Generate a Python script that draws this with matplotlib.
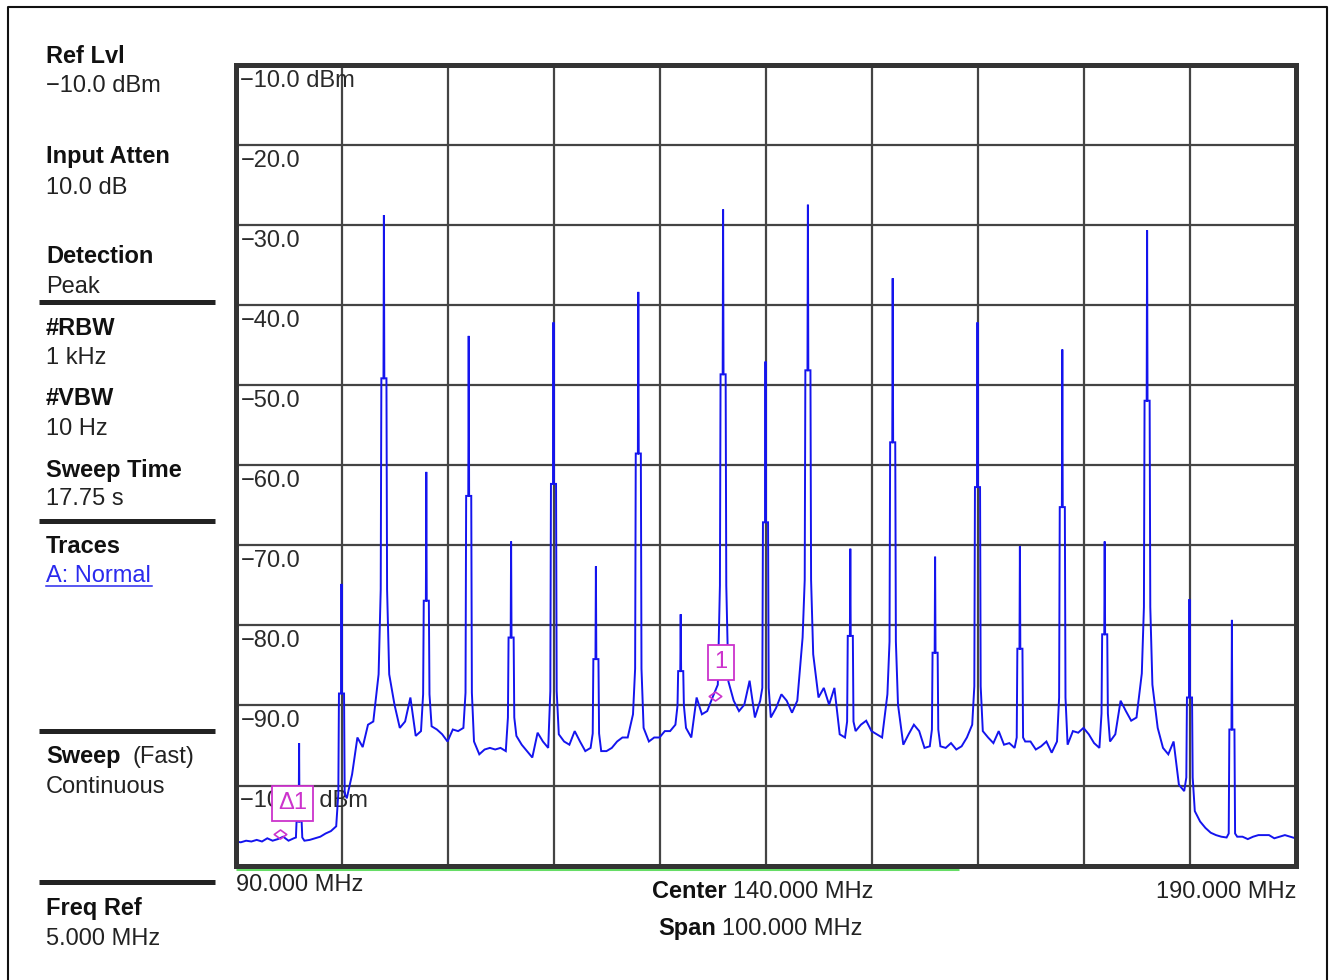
"""
Spectrum analyzer screen: comb of tones between 90 and 190 MHz.
Saves out.png (1336 x 980).
"""

import numpy as np
import matplotlib.pyplot as plt
import matplotlib.transforms as mtransforms
from matplotlib.lines import Line2D
from matplotlib.path import Path

W, H = 1336, 980
FONT = ["Liberation Sans", "DejaVu Sans"]
plt.rcParams["font.family"] = FONT

# ── Data ──────────────────────────────────────────────────────────────────────
peak_freq = [96, 100, 104, 108, 112, 116, 120, 124, 128, 132, 136, 140,
             144, 148, 152, 156, 160, 164, 168, 172, 176, 180, 184]
peak_top = [-94.7, -74.8, -28.7, -60.8, -43.8, -69.5, -42.1, -72.6, -38.3, -78.6, -28.0, -47.0,
            -27.4, -70.4, -36.6, -71.4, -42.1, -70.1, -45.5, -69.5, -30.6, -76.7, -79.3]
peak_shoulder = [-104.5, -88.5, -49.1, -76.9, -63.8, -81.5, -62.3, -84.2, -58.5, -85.7, -48.6, -67.1,
                 -48.1, -81.3, -57.1, -83.4, -62.7, -82.9, -65.2, -81.1, -51.9, -89.0, -93.0]
peak_skirt = [-106.5, -101.0, -75.5, -88.6, -88.4, -91.5, -88.2, -93.5, -85.4, -90.0, -75.0, -87.8,
              -74.3, -92.0, -82.0, -93.0, -87.6, -94.0, -89.0, -91.0, -77.7, -99.0, -106.0]

# noise floor every 0.5 MHz from 90 to 190 MHz (nan where a tone sits)
floor_freq = np.arange(90.0, 190.01, 0.5)
nan = np.nan
floor_level = [
    -107.0, -107.1, -106.9, -107.0, -106.8, -107.0, -106.6, -106.9, -106.7, -106.4,  # 90.0 - 94.5
    -106.9, -106.6, nan, -106.9, -106.8, -106.6, -106.4, -106.0, -105.7, -105.1,     # 95.0 - 99.5
    nan, -101.6, -98.6, -94.0, -95.2, -92.4, -92.0, -86.1, nan, -86.1,               # 100.0 - 104.5
    -89.9, -92.8, -92.0, -89.0, -93.8, -93.2, nan, -92.6, -93.0, -93.6,              # 105.0 - 109.5
    -94.5, -93.0, -93.2, -92.8, nan, -94.5, -96.1, -95.5, -95.3, -95.5,              # 110.0 - 114.5
    -95.3, -95.7, nan, -93.8, -94.9, -95.7, -96.5, -93.4, -94.5, -95.3,              # 115.0 - 119.5
    nan, -93.6, -94.5, -94.9, -93.2, -94.5, -95.7, -95.3, nan, -95.7,                # 120.0 - 124.5
    -95.7, -95.3, -94.5, -94.0, -94.0, -91.1, nan, -92.8, -94.5, -94.0,              # 125.0 - 129.5
    -94.0, -93.2, -93.2, -92.4, nan, -92.8, -94.0, -89.0, -91.1, -90.7,              # 130.0 - 134.5
    -89.0, -87.4, nan, -87.0, -89.4, -90.7, -89.9, -86.9, -91.5, -89.4,              # 135.0 - 139.5
    nan, -91.5, -90.3, -88.6, -89.4, -90.9, -89.4, -81.5, nan, -83.6,                # 140.0 - 144.5
    -89.0, -87.8, -89.9, -87.8, -93.6, -94.0, nan, -93.2, -92.4, -91.9,              # 145.0 - 149.5
    -93.2, -93.6, -94.0, -88.6, nan, -89.9, -94.9, -93.6, -92.4, -93.2,              # 150.0 - 154.5
    -95.3, -95.1, nan, -95.1, -95.3, -94.7, -95.5, -95.1, -94.0, -92.4,              # 155.0 - 159.5
    nan, -93.2, -94.0, -94.7, -93.2, -94.9, -94.7, -95.3, nan, -94.5,                # 160.0 - 164.5
    -94.5, -95.5, -95.1, -94.5, -95.9, -94.5, nan, -94.9, -93.2, -93.4,              # 165.0 - 169.5
    -92.8, -93.6, -94.7, -95.3, nan, -94.5, -93.6, -89.4, -90.7, -91.9,              # 170.0 - 174.5
    -91.5, -86.0, nan, -87.4, -92.8, -95.3, -96.1, -94.5, -99.9, -100.7,             # 175.0 - 179.5
    nan, -103.2, -104.5, -105.3, -105.9, -106.2, -106.4, -106.5, nan, -106.4,        # 180.0 - 184.5
    -106.4, -106.7, -106.4, -106.2, -106.2, -106.2, -106.6, -106.4, -106.2, -106.4,  # 185.0 - 189.5
    -106.6,                                                                          # 190.0
]

freq_grid = [100, 110, 120, 130, 140, 150, 160, 170, 180]
level_grid = [-20, -30, -40, -50, -60, -70, -80, -90, -100]
level_labels = [-10, -20, -30, -40, -50, -60, -70, -80, -90, -100]

marker1 = (135.2, -88.8)        # MHz, dBm
delta_marker = (94.2, -106.1)
sweep_done = 158.3              # MHz, green progress bar end

# ── Build the trace ───────────────────────────────────────────────────────────
pts = [(f, v) for f, v in zip(floor_freq, floor_level) if not np.isnan(v)]
for f, top, sh, sk in zip(peak_freq, peak_top, peak_shoulder, peak_skirt):
    pts += [(f - 0.30, sk), (f - 0.24, sh), (f - 0.04, sh), (f, top),
            (f + 0.04, sh), (f + 0.24, sh), (f + 0.30, sk)]
pts.sort()
trace_f = [p[0] for p in pts]
trace_v = [p[1] for p in pts]

# ── Figure ────────────────────────────────────────────────────────────────────
fig = plt.figure(figsize=(W / 100, H / 100), dpi=100)
fig.patch.set_facecolor("white")


def fx(x):
    return x / W


def fy(y):
    return 1 - y / H


ax = fig.add_axes([fx(235.5), fy(865.5), 1060 / W, 800 / H])
ax.set_xlim(90, 190)
ax.set_ylim(-110, -10)
ax.set_xticks([])
ax.set_yticks([])
for s in ax.spines.values():
    s.set_linewidth(3.6)
    s.set_color("#333333")
    s.set_zorder(5)

for f in freq_grid:
    ax.axvline(f, color="#444444", lw=1.6, zorder=1)
for lv in level_grid:
    ax.axhline(lv, color="#444444", lw=1.6, zorder=1)

ax.plot(trace_f, trace_v, color="#1414ee", lw=1.4, zorder=3, solid_joinstyle="miter")

# level labels inside the graticule
lab_tr = mtransforms.offset_copy(ax.get_yaxis_transform(), fig=fig, x=5, y=-21.5, units="dots")
for lv in level_labels:
    txt = f"\u2212{abs(lv):.1f}"
    if lv in (-10, -100):
        txt += " dBm"
    ax.text(0, lv, txt, transform=lab_tr, ha="left", va="baseline",
            fontsize=17, color="#2a2a2a", zorder=2)

# markers
magenta = "#cc33cc"
diamond = Path([(-1, 0), (0, 0.72), (1, 0), (0, -0.72), (-1, 0)],
               [Path.MOVETO, Path.LINETO, Path.LINETO, Path.LINETO, Path.CLOSEPOLY])
for (mf, ml) in (marker1, delta_marker):
    ax.plot([mf], [ml], marker=diamond, ms=9, mfc="none", mec=magenta, mew=1.2, zorder=6)

box = dict(boxstyle="square,pad=0.27", fc="white", ec=magenta, lw=1.3)
ax.annotate("1", xy=marker1, xytext=(4.7, 24.1), textcoords="offset points",
            ha="center", va="center", fontsize=17, color=magenta, bbox=box, zorder=7)
ax.annotate("\u03941", xy=delta_marker, xytext=(9.0, 22.3), textcoords="offset points",
            ha="center", va="center", fontsize=17, color=magenta, bbox=box, zorder=7,
            family=FONT)

# sweep progress bar under the graticule
bar_tr = mtransforms.offset_copy(ax.get_xaxis_transform(), fig=fig, x=0, y=-3, units="dots")
ax.plot([90, sweep_done], [0, 0], transform=bar_tr, color="#66dd66", lw=2.2,
        clip_on=False, zorder=4, solid_capstyle="butt")

# ── Frequency annotations ────────────────────────────────────────────────────
fs = 17
fig.text(fx(236), fy(891), "90.000 MHz", ha="left", va="baseline", fontsize=fs, color="#222")
fig.text(fx(1296), fy(898), "190.000 MHz", ha="right", va="baseline", fontsize=fs, color="#222")
fig.text(fx(727), fy(898), "Center", ha="right", va="baseline", fontsize=fs, weight="bold", color="#111")
fig.text(fx(733), fy(898), "140.000 MHz", ha="left", va="baseline", fontsize=fs, color="#222")
fig.text(fx(716), fy(935), "Span", ha="right", va="baseline", fontsize=fs, weight="bold", color="#111")
fig.text(fx(722), fy(935), "100.000 MHz", ha="left", va="baseline", fontsize=fs, color="#222")

# ── Left settings panel ───────────────────────────────────────────────────────
panel = [
    ("Ref Lvl", 63, True), ("\u221210.0 dBm", 92, False),
    ("Input Atten", 163, True), ("10.0 dB", 194, False),
    ("Detection", 263, True), ("Peak", 293, False),
    ("#RBW", 335, True), ("1 kHz", 364, False),
    ("#VBW", 405, True), ("10 Hz", 435, False),
    ("Sweep Time", 477, True), ("17.75 s", 505, False),
    ("Traces", 553, True),
    ("Sweep", 763, True), ("Continuous", 793, False),
    ("Freq Ref", 915, True), ("5.000 MHz", 945, False),
]
for label, yb, bold in panel:
    fig.text(fx(46), fy(yb), label, ha="left", va="baseline", fontsize=fs,
             weight="bold" if bold else "normal", color="#111" if bold else "#222")
fig.text(fx(132), fy(763), "(Fast)", ha="left", va="baseline", fontsize=fs, color="#222")
fig.text(fx(46), fy(582), "A: Normal", ha="left", va="baseline", fontsize=fs, color="#2a2aee")
fig.add_artist(Line2D([fx(46), fx(152)], [fy(586), fy(586)], color="#2a2aee", lw=1.1))

for yy in (302.5, 520.5, 731, 882):
    fig.add_artist(Line2D([fx(39), fx(215)], [fy(yy), fy(yy)], color="#222", lw=3.6,
                          solid_capstyle="butt"))

# outer border
fig.add_artist(Line2D([fx(7.5), fx(7.5), fx(1327), fx(1327)],
                      [fy(980), fy(7.5), fy(7.5), fy(980)], color="#111", lw=1.5))

fig.savefig("out.png", dpi=100, facecolor="white")
